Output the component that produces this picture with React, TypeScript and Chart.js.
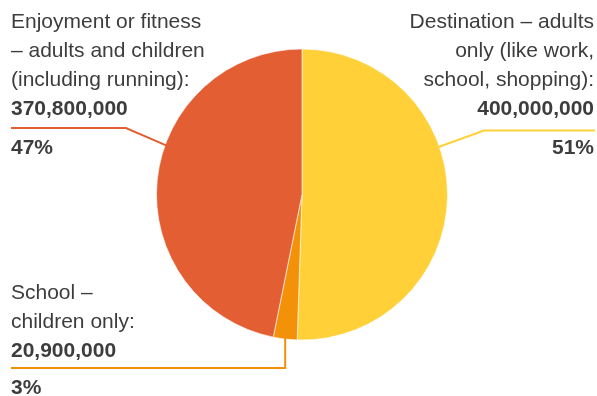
import React, { useEffect, useRef } from "react";
import { Chart, registerables } from "chart.js";

Chart.register(...registerables);

const categories = [
  "Destination – adults only (like work, school, shopping)",
  "School – children only",
  "Enjoyment or fitness – adults and children (including running)",
];
const values = [400000000, 20900000, 370800000];
const valueLabels = ["400,000,000", "20,900,000", "370,800,000"];
const percentLabels = ["51%", "3%", "47%"];
const labelLines = [
  ["Destination – adults", "only (like work,", "school, shopping):"],
  ["School –", "children only:"],
  ["Enjoyment or fitness", "– adults and children", "(including running):"],
];
const colors = ["#FFD038", "#F39208", "#E35F33"];

// label layout (style/positions only)
const labelLayout = [
  { align: "right", x: 594, baselines: [27.5, 56.5, 85.5], numY: 115, pctY: 153.5, lineY: 130.5, lineX0: 595, elbowX: 484, anchorDeg: -19.2, vertical: false },
  { align: "left", x: 11, baselines: [298.5, 327.5], numY: 356.5, pctY: 394, lineY: 368, lineX0: 11, elbowX: 0, anchorDeg: 0, vertical: true },
  { align: "left", x: 11, baselines: [27.5, 56.5, 85.5], numY: 115, pctY: 153.5, lineY: 128, lineX0: 11, elbowX: 126, anchorDeg: 199.9, vertical: false },
];

const FONT = '"Liberation Sans", Arial, Helvetica, sans-serif';
const TEXT = "#3d3d3d";

const labelPlugin = {
  id: "pieLabels",
  afterDraw(chart: any) {
    const ctx = chart.ctx;
    const meta = chart.getDatasetMeta(0);
    ctx.save();
    meta.data.forEach((arc: any, i: number) => {
      const L = labelLayout[i];
      const { x: cx, y: cy, outerRadius, startAngle, endAngle } = arc.getProps(
        ["x", "y", "outerRadius", "startAngle", "endAngle"],
        true
      );
      // leader line
      ctx.strokeStyle = colors[i];
      ctx.lineWidth = 2;
      ctx.beginPath();
      if (L.vertical) {
        const mid = (startAngle + endAngle) / 2;
        const ax = cx + outerRadius * Math.cos(mid);
        const ay = cy + outerRadius * Math.sin(mid);
        ctx.moveTo(L.lineX0, L.lineY);
        ctx.lineTo(ax, L.lineY);
        ctx.lineTo(ax, ay - 1);
      } else {
        const a = (L.anchorDeg * Math.PI) / 180;
        const ax = cx + (outerRadius - 1) * Math.cos(a);
        const ay = cy + (outerRadius - 1) * Math.sin(a);
        ctx.moveTo(L.lineX0, L.lineY);
        ctx.lineTo(L.elbowX, L.lineY);
        ctx.lineTo(ax, ay);
      }
      ctx.stroke();
      // text
      ctx.fillStyle = TEXT;
      ctx.textAlign = L.align;
      ctx.textBaseline = "alphabetic";
      ctx.font = `21px ${FONT}`;
      labelLines[i].forEach((t, k) => ctx.fillText(t, L.x, L.baselines[k]));
      ctx.font = `bold 21px ${FONT}`;
      ctx.fillText(valueLabels[i], L.x, L.numY);
      ctx.fillText(percentLabels[i], L.x, L.pctY);
    });
    ctx.restore();
  },
};

export default function App() {
  const ref = useRef<HTMLCanvasElement>(null);
  useEffect(() => {
    document.body.style.margin = "0";
    const chart = new Chart(ref.current!, {
      type: "pie",
      data: {
        labels: categories,
        datasets: [
          {
            data: values,
            backgroundColor: colors,
            borderColor: "rgba(255,255,255,0.6)",
            borderWidth: 1,
          },
        ],
      },
      options: {
        animation: false,
        responsive: false,
        layout: { padding: { top: 48.5, bottom: 55.5, left: 156, right: 149 } },
        plugins: { legend: { display: false }, tooltip: { enabled: false } },
      },
      plugins: [labelPlugin],
    });
    return () => chart.destroy();
  }, []);
  return (
    <div style={{ width: 597, height: 396 }}>
      <canvas ref={ref} width={597} height={396} style={{ display: "block" }} />
    </div>
  );
}
